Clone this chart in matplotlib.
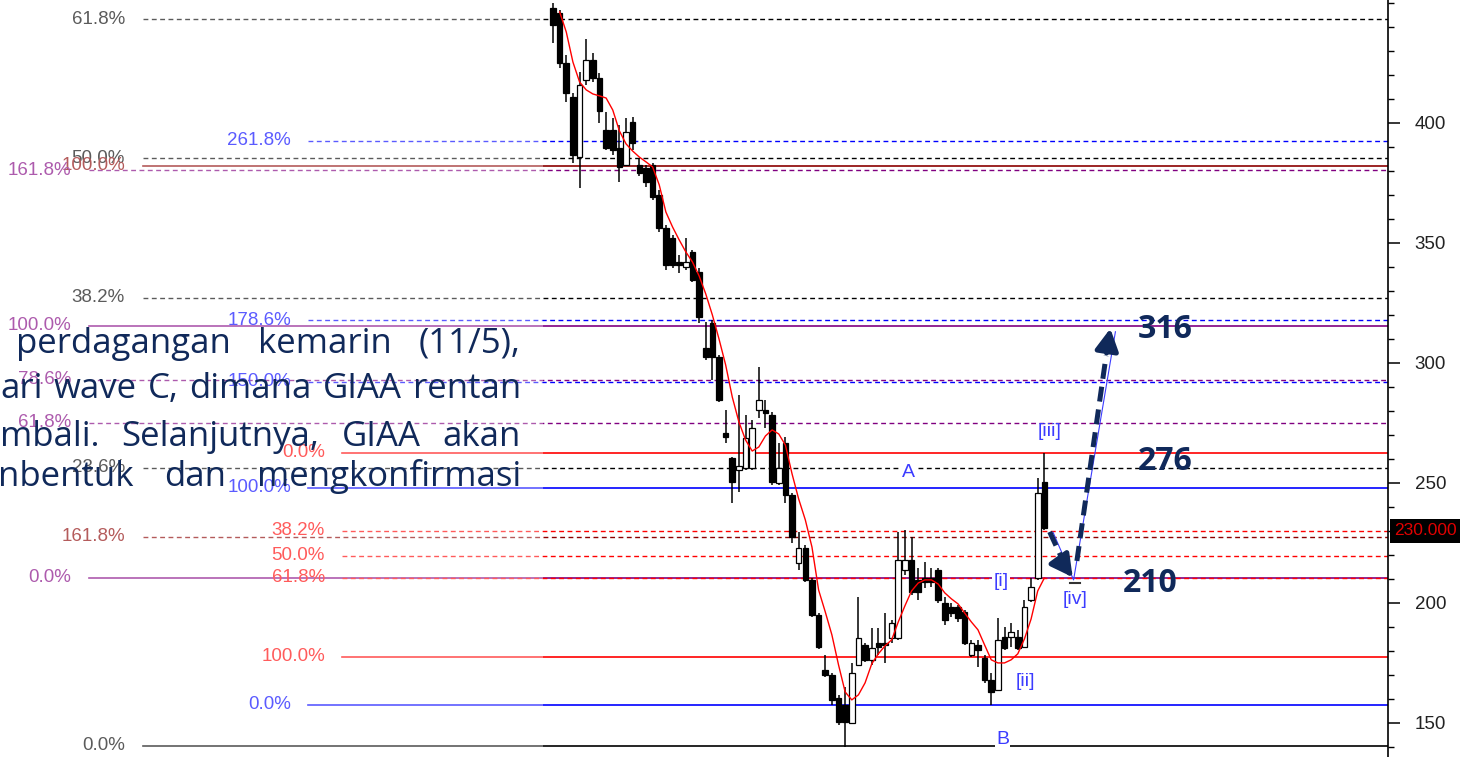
import matplotlib
matplotlib.use("Agg")
import matplotlib.pyplot as plt
import matplotlib.transforms as mtransforms
from matplotlib.patches import Rectangle
from matplotlib.ticker import MultipleLocator

# --- candles (oldest -> newest), GIAA daily ---
opens = [447.9, 445.8, 425.0, 410.8, 385.8, 417.9, 426.3, 418.8, 397.1, 397.1,
         389.6, 382.5, 400.4, 382.5, 381.3, 382.5, 370.0, 356.3, 352.1, 342.1,
         340.0, 346.3, 337.9, 306.3, 316.7, 302.5, 270.8, 260.4, 255.4, 256.3,
         256.3, 280.4, 280.4, 278.3, 250.0, 266.7, 245.0, 216.7, 222.9, 209.6,
         195.0, 172.1, 170.0, 160.4, 157.5, 150.0, 174.2, 182.5, 176.3, 183.3,
         183.3, 185.4, 185.4, 213.8, 217.9, 209.6, 210.4, 210.4, 213.8, 200.0,
         198.3, 198.3, 196.3, 178.3, 182.5, 177.1, 167.9, 163.8, 185.8, 185.8,
         185.8, 181.7, 201.3, 210.4, 250.4]
closes = [440.8, 425.0, 412.5, 386.7, 415.8, 426.3, 418.8, 405.0, 389.6, 388.8,
          381.7, 396.3, 391.7, 379.2, 375.4, 369.2, 356.3, 340.8, 340.8, 340.8,
          342.1, 334.6, 319.2, 302.5, 302.5, 284.6, 269.2, 250.4, 257.1, 268.8,
          272.9, 284.6, 279.2, 250.4, 256.3, 245.0, 227.5, 222.9, 209.6, 195.0,
          181.7, 170.0, 159.6, 150.4, 150.4, 170.8, 185.4, 176.3, 181.3, 181.7,
          182.5, 191.7, 217.9, 217.9, 204.6, 204.6, 208.8, 208.8, 201.3, 192.9,
          195.8, 193.8, 183.3, 183.3, 180.4, 167.9, 162.9, 184.6, 181.3, 187.9,
          181.3, 198.3, 206.7, 245.8, 231.3]
highs = [450.0, 447.1, 428.3, 412.5, 421.3, 435.0, 429.2, 420.8, 404.6, 402.1,
         399.2, 402.1, 402.5, 385.4, 382.5, 383.3, 372.1, 357.5, 353.3, 345.0,
         352.1, 347.1, 339.6, 317.1, 317.9, 303.3, 280.4, 260.8, 286.7, 278.3,
         276.3, 298.3, 284.6, 279.6, 266.7, 269.2, 245.8, 229.6, 224.2, 210.4,
         195.8, 178.3, 170.8, 161.7, 165.0, 175.0, 202.5, 183.3, 189.6, 189.6,
         195.8, 192.9, 229.6, 230.4, 227.5, 214.6, 217.1, 214.6, 214.6, 202.5,
         200.0, 199.2, 197.1, 184.6, 184.6, 178.3, 170.8, 193.8, 190.0, 191.7,
         188.8, 201.3, 210.4, 252.1, 262.5]
lows = [433.3, 422.9, 408.8, 383.3, 372.9, 415.8, 417.1, 400.0, 388.8, 386.7,
        375.4, 382.1, 388.8, 377.9, 373.3, 367.9, 354.6, 338.8, 339.6, 337.5,
        338.8, 333.8, 316.7, 301.3, 292.9, 283.8, 266.7, 241.7, 246.3, 255.4,
        255.4, 277.1, 272.9, 249.2, 249.2, 241.7, 225.0, 213.8, 208.8, 194.2,
        180.8, 169.2, 157.5, 149.2, 140.0, 150.0, 174.2, 175.4, 174.2, 178.3,
        175.0, 183.3, 184.6, 211.7, 203.3, 201.3, 206.3, 206.7, 200.0, 190.8,
        194.2, 192.1, 182.5, 177.5, 173.3, 166.7, 157.5, 163.8, 180.4, 181.7,
        180.4, 181.7, 200.4, 209.6, 230.4]

# moving average, starts at candle 1
ma_values = [446.3, 437.9, 425.4, 417.1, 413.8, 412.1, 411.3, 410.4, 405.4, 396.7,
             391.3, 388.3, 385.8, 383.8, 381.7, 374.2, 362.9, 356.7, 351.3, 346.3,
             342.1, 336.3, 328.8, 320.0, 310.0, 299.2, 285.8, 275.4, 267.9, 263.3,
             265.0, 269.6, 272.1, 270.4, 265.8, 253.8, 243.3, 234.6, 223.3, 205.4,
             196.3, 186.7, 174.2, 162.9, 159.6, 161.7, 166.7, 174.6, 178.8, 182.1,
             184.6, 192.1, 198.8, 205.0, 208.3, 209.6, 209.6, 207.9, 204.2, 201.7,
             199.6, 195.8, 192.1, 188.8, 182.5, 176.3, 175.0, 175.0, 176.3, 178.8,
             185.0, 193.3, 205.0, 210.4]

# --- fibonacci tools ---
black_levels = [443.3, 385.4, 327.1, 256.3, 140.4]
black_labels = ["61.8%", "50.0%", "38.2%", "23.6%", "0.0%"]
darkred_levels = [382.1, 227.5]
darkred_labels = ["100.0%", "161.8%"]
purple_levels = [380.4, 315.6, 292.9, 275.0, 210.4]
purple_labels = ["161.8%", "100.0%", "78.6%", "61.8%", "0.0%"]
blue_levels = [392.5, 317.9, 292.2, 247.9, 157.5]
blue_labels = ["261.8%", "178.6%", "150.0%", "100.0%", "0.0%"]
red_levels = [262.5, 230.0, 219.6, 210.4, 177.5]
red_labels = ["0.0%", "38.2%", "50.0%", "61.8%", "100.0%"]

targets = [316, 276, 210]
last_price = 230.0
y_ticks = [150, 200, 250, 300, 350, 400]

para_lines = [
    ["perdagangan", "kemarin", "(11/5),"],
    ["ari", "wave", "C,", "dimana", "GIAA", "rentan"],
    ["mbali.", "Selanjutnya,", "GIAA", "akan"],
    ["nbentuk", "dan", "mengkonfirmasi"],
]

# --- layout (pixels of the 1460x757 canvas) ---
W, H = 1460, 757
AX_RIGHT = 1388
FIRST_PX, BAR_PX = 553, 6.64
NAVY = "#10295a"
WAVE = "#3c3cff"

fig = plt.figure(figsize=(W / 100, H / 100), dpi=100)
fig.patch.set_facecolor("white")
ax = fig.add_axes([0, 0, AX_RIGHT / W, 1])
ax.set_xlim(-FIRST_PX / BAR_PX, (AX_RIGHT - FIRST_PX) / BAR_PX)
ax.set_ylim(135.8, 451.25)

lbl = mtransforms.blended_transform_factory(fig.transFigure, ax.transData)

groups = [
    (black_levels, black_labels, "#000000", 143, 125),
    (darkred_levels, darkred_labels, "#8b0000", 143, 125),
    (purple_levels, purple_labels, "#800080", 89, 71),
    (blue_levels, blue_labels, "#0000ff", 308, 291),
    (red_levels, red_labels, "#ff0000", 342, 325),
]
for levels, labels, color, start, right in groups:
    for val, text in zip(levels, labels):
        solid = text in ("0.0%", "100.0%")
        ax.axhline(val, xmin=start / AX_RIGHT, xmax=1, color=color,
                   lw=1.2 if solid else 1.0,
                   ls="-" if solid else (0, (3.5, 2.5)), zorder=1)
        ax.text(right / W, val, text, transform=lbl, ha="right", va="center",
                color=color, fontsize=13.5, family="Liberation Sans", zorder=1.5)

# faded band behind the slide text
ax.add_patch(Rectangle((0, 0), 543 / AX_RIGHT, 1, transform=ax.transAxes,
                       facecolor="white", alpha=0.36, edgecolor="none", zorder=2))

# candles
for i, (o, h, l, c) in enumerate(zip(opens, highs, lows, closes)):
    ax.vlines(i, l, h, color="black", lw=1.1, zorder=3)
    face = "black" if c < o else "white"
    ax.add_patch(Rectangle((i - 0.42, min(o, c)), 0.84, max(abs(c - o), 0.7),
                           facecolor=face, edgecolor="black", lw=0.9, zorder=4))

ax.plot(range(1, len(ma_values) + 1), ma_values, color="#ff0000", lw=1.0, zorder=5)

# wave labels
wave_kw = dict(color=WAVE, fontsize=14, family="Liberation Sans", ha="center",
               va="center", zorder=6)
box = dict(facecolor="white", edgecolor="none", pad=1)
ax.text(53.5, 254.2, "A", bbox=box, **wave_kw)
ax.text(67.7, 142.9, "B", bbox=box, **wave_kw)
ax.text(67.5, 208.8, "[i]", bbox=box, **wave_kw)
ax.text(71.2, 167.1, "[ii]", **wave_kw)
ax.text(74.8, 271.3, "[iii]", **wave_kw)
ax.text(78.6, 201.3, "[iv]", **wave_kw)
ax.plot([77.8, 79.3], [208.2, 208.2], color="#333333", lw=1.5, zorder=6)

# projected path
ax.plot([75.3, 78.4, 84.7], [229.5, 209.6, 313.0], color="#3c3cff", lw=0.8, zorder=6)
dash = (0, (3, 1.6))
head = "-|>,head_length=1.3,head_width=0.7"
ax.plot([74.8, 77.4], [229.6, 214.0], color=NAVY, lw=3.6, ls=dash,
        dash_capstyle="butt", zorder=7)
ax.annotate("", xy=(78.5, 209.8), xytext=(77.4, 214.0),
            arrowprops=dict(arrowstyle=head, color=NAVY, lw=3.6), zorder=7)
ax.plot([78.9, 83.3], [217.5, 303.0], color=NAVY, lw=3.6, ls=dash,
        dash_capstyle="butt", zorder=7)
ax.annotate("", xy=(84.0, 315.5), xytext=(83.3, 303.0),
            arrowprops=dict(arrowstyle=head, color=NAVY, lw=3.6), zorder=7)

tgt_kw = dict(color=NAVY, fontsize=23, fontweight="bold", family="Open Sans",
              ha="left", va="center", zorder=8)
ax.text(88.1, 313.8, str(targets[0]), **tgt_kw)
ax.text(88.1, 258.8, str(targets[1]), **tgt_kw)
ax.text(85.8, 208.3, str(targets[2]), **tgt_kw)

# right price axis
for side in ("left", "top", "bottom"):
    ax.spines[side].set_visible(False)
ax.spines["right"].set_linewidth(1.2)
ax.set_xticks([])
ax.yaxis.tick_right()
ax.set_yticks(y_ticks)
ax.yaxis.set_minor_locator(MultipleLocator(10))
ax.tick_params(axis="y", which="major", length=8.6, width=1.1, pad=10.5,
               labelsize=13.5, labelcolor="#222222")
ax.tick_params(axis="y", which="minor", length=4.3, width=1.0)
for t in ax.get_yticklabels():
    t.set_family("Liberation Sans")

ax.text(1425 / W, last_price, f"{last_price:.3f}", transform=lbl, ha="center",
        va="center", color="#e00000", fontsize=12.5, family="Liberation Sans",
        bbox=dict(facecolor="black", edgecolor="none", pad=3), clip_on=False)

# slide text over the chart, justified between a left edge and x=521
baselines = [353, 398, 446, 486]
line_left = [16, 0, 0, -2]
fig.canvas.draw()
renderer = fig.canvas.get_renderer()
for words, x0, yb in zip(para_lines, line_left, baselines):
    texts = [fig.text(0, 1 - yb / H, w, ha="left", va="baseline", color=NAVY,
                      fontsize=25, family="Open Sans") for w in words]
    widths = [t.get_window_extent(renderer).width for t in texts]
    gap = (521 - x0 - sum(widths)) / (len(words) - 1)
    x = x0
    for t, wd in zip(texts, widths):
        t.set_x(x / W)
        x += wd + gap

fig.savefig("out.png", dpi=100)
